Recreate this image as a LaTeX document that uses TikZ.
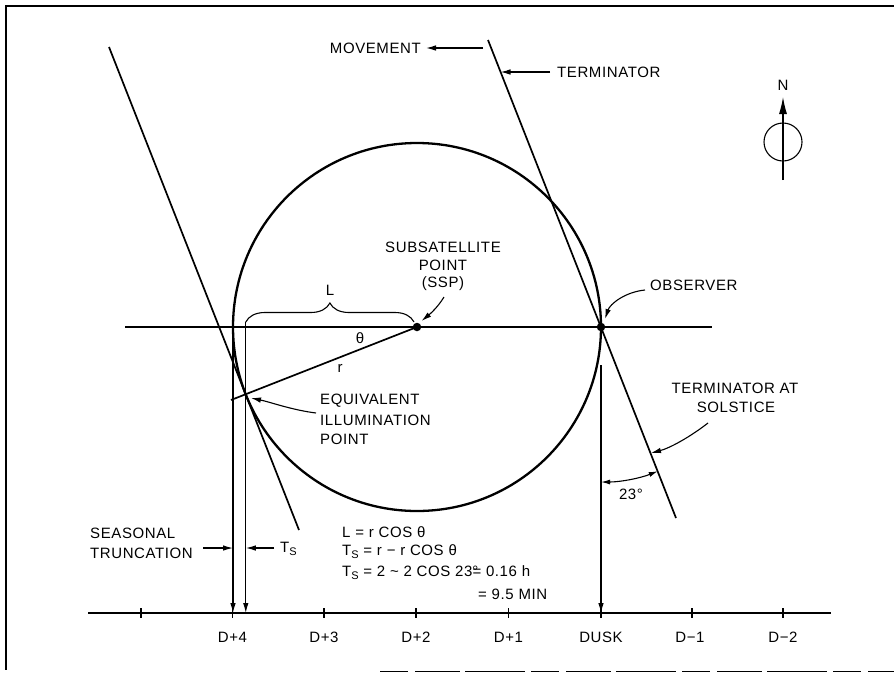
\documentclass[tikz,border=0pt]{standalone}
\usepackage{fontspec}
\setmainfont{Liberation Sans}[LetterSpace=4]
\usetikzlibrary{arrows.meta,decorations.pathreplacing}
\newcommand{\TsSym}{T\raisebox{-3pt}{\fontsize{11}{11}\selectfont S}}
\begin{document}
\begin{tikzpicture}[x=1pt,y=-1pt,
  heavy/.style={line width=2.3pt},
  medium/.style={line width=1.7pt},
  light/.style={line width=1.1pt},
  tip/.style={-{Latex[length=10pt,width=5.5pt]}},
  lbl/.style={inner sep=0pt, font=\fontsize{15}{17}\selectfont},
  dot/.style={circle, fill=black, inner sep=0pt, minimum size=8.5pt},
]
\useasboundingbox (0,0) rectangle (894,673);
% frame
\coordinate (f1) at (894,6); \coordinate (f2) at (6,6); \coordinate (f3) at (6,670);
\draw[line width=2.6pt] (f1) -- (f2) -- (f3);
\coordinate (b1) at (380,671); \coordinate (b2) at (894,671);
\draw[line width=1pt, dash pattern=on 28pt off 7pt on 45pt off 5pt on 60pt off 6pt] (b1) -- (b2);

% circle and main lines
\coordinate (C) at (417,327);
\draw[heavy] (C) circle[radius=184];
\coordinate (hL) at (125,327); \coordinate (hR) at (712,327);
\draw[medium] (hL) -- (hR);
\coordinate (E) at (245.8,394.4);
\coordinate (ltop) at (109,47); \coordinate (lbot) at (299,530);
\draw[medium] (ltop) -- (lbot);
\coordinate (rtop) at (488,40); \coordinate (rbot) at (676,518);
\draw[medium] (rtop) -- (rbot);
\node[dot] (ssp) at (417,327) {};
\node[dot] (obs) at (601,327) {};
\coordinate (rend) at (231,400);
\draw[medium] (ssp.center) -- (rend);

% brace L
\coordinate (brL) at (245.8,322); \coordinate (brR) at (414,322);
\draw[light, decorate, decoration={brace, amplitude=19pt}] (brL) -- (brR);
\node[lbl] (Lab) at (330,290) {L};
\node[lbl] (th) at (360,338) {θ};
\node[lbl] (rr) at (340,368) {r};

% axis
\coordinate (ax1) at (88,613); \coordinate (ax2) at (831,613);
\draw[light] (ax1) -- (ax2);
\foreach \t in {141,232.5,324,416,508.5,601,692,783}
  \draw[light] (\t,608) -- (\t,618);
\node[lbl] (d4) at (232.5,637) {D+4};
\node[lbl] (d3) at (324,637) {D+3};
\node[lbl] (d2) at (416,637) {D+2};
\node[lbl] (d1) at (508.5,637) {D+1};
\node[lbl] (dusk) at (601,637) {DUSK};
\node[lbl] (dm1) at (690,637) {D−1};
\node[lbl] (dm2) at (783,637) {D−2};

% vertical arrows
\coordinate (vLt) at (233,338); \coordinate (vLb) at (233,613);
\coordinate (vRb) at (245.8,613);
\coordinate (vDt) at (601,365); \coordinate (vDb) at (601,613);
\draw[light,tip] (vLt) -- (vLb);
\draw[light,tip] (brL) -- (vRb);
\draw[light,tip] (vDt) -- (vDb);

% seasonal truncation
\node[lbl, anchor=west] (sea) at (90,533) {SEASONAL};
\node[lbl, anchor=west] (tru) at (90,553) {TRUNCATION};
\coordinate (s1) at (203,548); \coordinate (s1h) at (233,548);
\coordinate (s2) at (274,548); \coordinate (s2h) at (245.8,548);
\draw[light,tip] (s1) -- (s1h);
\draw[light,tip] (s2) -- (s2h);
\node[lbl, anchor=west] (tsl) at (280,549) {\TsSym};

% formulas
\node[lbl, anchor=west] (fm1) at (342,532) {L = r COS θ};
\node[lbl, anchor=west] (fm2) at (342,552) {\TsSym\ = r − r COS θ};
\node[lbl, anchor=west] (fm3) at (342,573) {\TsSym\ = 2 \textasciitilde\ 2 COS 23\rlap{°}= 0.16 h};
\node[lbl, anchor=west] (fm4) at (478,594) {= 9.5 MIN};

% movement / terminator labels
\node[lbl, anchor=east] (mov) at (421,48) {MOVEMENT};
\coordinate (mvT) at (483,48); \coordinate (mvH) at (426,48);
\draw[light,tip] (mvT) -- (mvH);
\node[lbl, anchor=west] (term) at (557,72) {TERMINATOR};
\coordinate (tmT) at (550,72); \coordinate (tmH) at (500.5,72);
\draw[light,tip] (tmT) -- (tmH);

% SSP label
\node[lbl] (sub) at (443,247) {SUBSATELLITE};
\node[lbl] (pnt) at (443,265) {POINT};
\node[lbl] (sspl) at (443,284) {(SSP)};
\coordinate (spT) at (444,297); \coordinate (spH) at (421.5,321);
\draw[light,tip] (spT) .. controls (438,307) and (430,314) .. (spH);

% observer label
\node[lbl, anchor=west] (obsl) at (650,285) {OBSERVER};
\coordinate (obT) at (645,290); \coordinate (obH) at (605,319);
\draw[light,tip] (obT) .. controls (625,292) and (610,304) .. (obH);

% equivalent illumination point
\node[lbl, anchor=west] (eq1) at (320,401) {EQUIVALENT};
\node[lbl, anchor=west] (eq2) at (320,420) {ILLUMINATION};
\node[lbl, anchor=west] (eq3) at (320,439) {POINT};
\coordinate (eqT) at (316,413); \coordinate (eqH) at (251,398);
\draw[light,tip] (eqT) .. controls (292,410) and (270,402) .. (eqH);

% terminator at solstice
\node[lbl] (tas1) at (735,388) {TERMINATOR AT};
\node[lbl] (tas2) at (736,407) {SOLSTICE};
\coordinate (taT) at (708,423); \coordinate (taH) at (651,453);
\draw[light,tip] (taT) .. controls (690,437) and (670,448) .. (taH);

% 23 degree arc
\coordinate (a1) at (601,482);
\draw[light,{Latex[length=9pt,width=5pt]}-{Latex[length=9pt,width=5pt]}] (a1) arc[start angle=90,end angle=68.5,radius=155];
\node[lbl] (deg) at (631,494) {23°};

% compass
\coordinate (cN) at (783,142);
\draw[light] (cN) circle[radius=19];
\coordinate (cB) at (783,180); \coordinate (cT) at (783,97);
\draw[light,-{Latex[length=17pt,width=8pt]}] (cB) -- (cT);
\node[lbl] (N) at (783,85) {N};
\end{tikzpicture}
\end{document}
